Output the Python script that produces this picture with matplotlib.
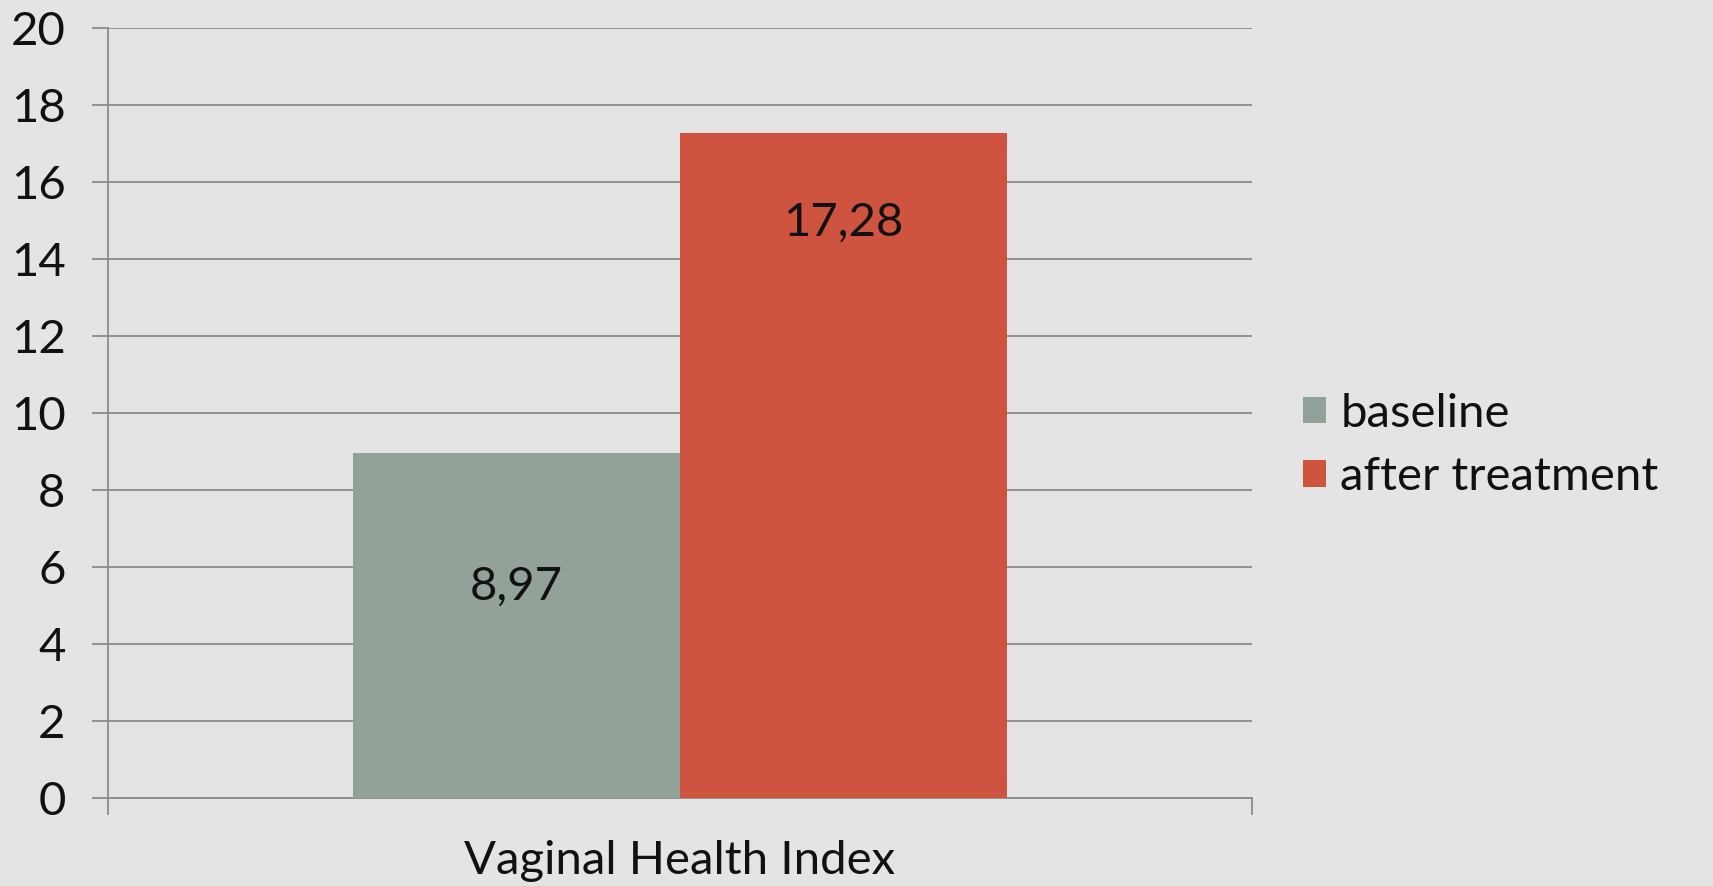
import matplotlib.pyplot as plt
from matplotlib.ticker import FixedLocator

categories = ['Vaginal Health Index']
series = ['baseline', 'after treatment']
values = [8.97, 17.28]
value_labels = ['8,97', '17,28']
label_y = [5.48, 14.94]
colors = ['#93a299', '#cf543f']
yticks = list(range(0, 21, 2))

plt.rcParams['font.family'] = ['Lato', 'DejaVu Sans']
grid_col = '#8c8c8c'
fs = 34

fig = plt.figure(figsize=(17.13, 8.86), dpi=100, facecolor='#e4e4e4')
ax = fig.add_axes([0.063, 0.0993, 0.668, 0.8691])
ax.set_facecolor('#e4e4e4')

w = 0.5714 / 2
for i, (name, v, c) in enumerate(zip(series, values, colors)):
    x = (i - 0.5) * w
    ax.bar(x, v, width=w, color=c, label=name, zorder=3)
    ax.text(x, label_y[i], value_labels[i], ha='center', va='center',
            fontsize=fs, color='#111111', zorder=4)

ax.set_xlim(-0.5, 0.5)
ax.set_ylim(0, 20)
ax.set_yticks(yticks)
ax.yaxis.grid(True, color=grid_col, linewidth=1.3, zorder=1)
ax.tick_params(axis='y', direction='out', length=11.5, width=1.3,
               color=grid_col, labelsize=fs, pad=19, labelcolor='#111111')

ax.set_xticks([0])
ax.set_xticklabels(categories)
ax.xaxis.set_minor_locator(FixedLocator([-0.5, 0.5]))
ax.tick_params(axis='x', which='major', length=0, labelsize=fs, pad=30,
               labelcolor='#111111')
ax.tick_params(axis='x', which='minor', direction='out', length=12,
               width=1.3, color=grid_col)

for s in ['top', 'right']:
    ax.spines[s].set_visible(False)
for s in ['left', 'bottom']:
    ax.spines[s].set_color(grid_col)
    ax.spines[s].set_linewidth(1.3)

leg = ax.legend(loc='center left', bbox_to_anchor=(1.044, 0.458), frameon=False,
                fontsize=fs, handlelength=0.5, handleheight=0.5,
                handletextpad=0.3, labelspacing=0.45, borderaxespad=0,
                borderpad=0)
for t in leg.get_texts():
    t.set_color('#111111')

fig.savefig('out.png', dpi=100, facecolor=fig.get_facecolor())
